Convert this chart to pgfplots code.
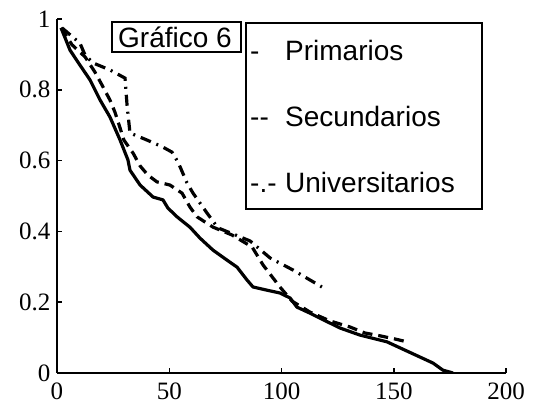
\documentclass[border=0pt]{standalone}
\usepackage{fontspec}
\setmainfont{Liberation Serif}
\newfontfamily\arialfont{Liberation Sans}
\usepackage{pgfplots}
\pgfplotsset{compat=1.18}

\begin{document}
\begin{tikzpicture}[x=1pt,y=1pt]
\useasboundingbox (0,0) rectangle (540,409);
\begin{axis}[
  at={(57pt,36pt)}, anchor=south west,
  scale only axis, width=449pt, height=354pt,
  xmin=0, xmax=200, ymin=0, ymax=1,
  axis lines*=left, tick pos=left,
  axis line style={line width=1.8pt,-},
  every outer x axis line/.append style={-},
  every outer y axis line/.append style={-},
  xtick={0,50,100,150,200},
  ytick={0,0.2,0.4,0.6,0.8,1},
  tick align=inside, major tick length=5pt,
  tick style={line width=1.5pt,black},
  /pgf/number format/assume math mode=true,
  ticklabel style={font=\fontsize{25}{26}\selectfont},
  xticklabel style={yshift=-6pt},
  yticklabel style={/pgf/number format/fixed, xshift=-3pt},
]
% Primarios (solid)
\addplot[black, line width=3.2pt, line join=round] coordinates {
(1.8,0.975) (5.8,0.912) (10.2,0.870) (14.7,0.828) (19.2,0.771)
(23.6,0.723) (28.1,0.658) (31.6,0.602) (32.5,0.573) (37.0,0.531)
(42.8,0.497) (47.2,0.489) (49.4,0.466) (53.5,0.441) (59.2,0.412)
(63.7,0.381) (69.5,0.347) (75.7,0.319) (80.2,0.299) (84.6,0.263)
(87.3,0.243) (93.5,0.234) (99.3,0.226) (103.8,0.212) (106.9,0.186)
(112.7,0.169) (117.1,0.155) (126.1,0.127) (135.0,0.107) (147.0,0.088)
(152.8,0.071) (161.7,0.045) (167.5,0.028) (171.9,0.008) (176.4,0.0)
};
% Secundarios (dashed)
\addplot[black, line width=3.2pt, dash pattern=on 10pt off 6pt] coordinates {
(1.8,0.975) (6.7,0.927) (12.5,0.893) (16.9,0.850) (20.0,0.814)
(23.6,0.771) (25.8,0.737) (28.1,0.692) (29.8,0.658) (33.9,0.621)
(37.0,0.585) (40.5,0.559) (44.5,0.540) (50.3,0.531) (55.7,0.508)
(59.2,0.469) (62.4,0.441) (69.5,0.412) (77.9,0.390) (86.9,0.356)
(91.8,0.305) (99.3,0.243) (104.7,0.203) (112.7,0.172) (121.6,0.147)
(130.5,0.130) (137.2,0.113) (143.9,0.105) (150.6,0.096) (155.9,0.088)
};
% Universitarios (dash-dot)
\addplot[black, line width=3.2pt, dash pattern=on 11pt off 6pt on 2pt off 6pt] coordinates {
(2.2,0.975) (10.2,0.932) (12.5,0.898) (16.0,0.876) (23.6,0.856)
(30.3,0.833) (31.2,0.757) (32.5,0.678) (40.1,0.658) (47.2,0.638)
(51.2,0.624) (53.9,0.596) (57.9,0.537) (60.6,0.508) (66.8,0.452)
(71.7,0.410) (86.0,0.373) (94.9,0.325) (105.1,0.291) (118.0,0.243)
};
\end{axis}
% title box
\draw[line width=1.6pt] (112,357) rectangle (241,387);
\node[font=\arialfont\fontsize{28}{28}\selectfont, inner sep=0pt] at (175,372) {Gráfico 6};
% legend box, written as text entries
\draw[line width=1.4pt] (246,200) rectangle (482,386);
\begin{scope}[every node/.style={font=\arialfont\fontsize{28}{28}\selectfont, inner sep=0pt, anchor=base west}]
\node at (250,348) {-};
\node at (285,348) {Primarios};
\node at (250,282) {--};
\node at (285,282) {Secundarios};
\node at (250,216) {-.-};
\node at (285,216) {Universitarios};
\end{scope}
\end{tikzpicture}
\end{document}
